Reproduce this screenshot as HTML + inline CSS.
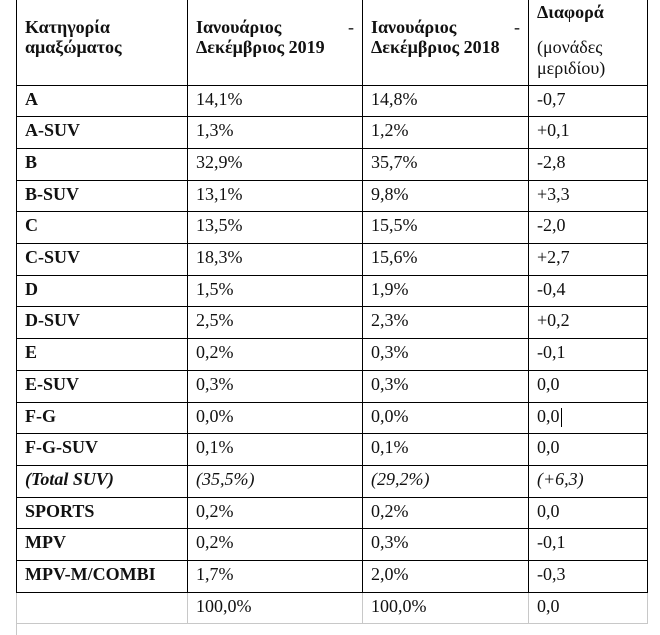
<!DOCTYPE html>
<html><head><meta charset="utf-8"><style>
body{margin:0;width:660px;height:635px;background:#fff;overflow:hidden;position:relative;font-family:"Liberation Serif",serif;color:#111}
.h,.v{position:absolute;background:#000}
.h{height:1px}.v{width:1px}
.t{position:absolute;font-size:18px;line-height:20px;white-space:nowrap}
.b{font-weight:bold}.i{font-style:italic}
</style></head><body>
<div id="g"></div>
<script>
var cols=[16,187,362,528,647];var base=84.5,rh=31.7;var g=document.getElementById('g');var s='';
for(var c=0;c<5;c++){s+='<div class="v" style="left:'+cols[c]+'px;top:0;height:'+(base+16*rh)+'px"></div>';
s+='<div class="v" style="left:'+cols[c]+'px;top:'+(base+16*rh)+'px;height:'+(c==0?635-base-16*rh:rh)+'px;background:#c8c8c8"></div>';}
for(var r=0;r<=16;r++){s+='<div class="h" style="left:16px;width:632px;top:'+Math.round(base+r*rh)+'px"></div>';}
s+='<div class="h" style="left:16px;width:632px;top:'+Math.round(base+17*rh)+'px;background:#c8c8c8"></div>';
var rows=[["A","14,1%","14,8%","-0,7"],["A-SUV","1,3%","1,2%","+0,1"],["B","32,9%","35,7%","-2,8"],["B-SUV","13,1%","9,8%","+3,3"],["C","13,5%","15,5%","-2,0"],["C-SUV","18,3%","15,6%","+2,7"],["D","1,5%","1,9%","-0,4"],["D-SUV","2,5%","2,3%","+0,2"],["E","0,2%","0,3%","-0,1"],["E-SUV","0,3%","0,3%","0,0"],["F-G","0,0%","0,0%","0,0"],["F-G-SUV","0,1%","0,1%","0,0"],["(Total SUV)","(35,5%)","(29,2%)","(+6,3)"],["SPORTS","0,2%","0,2%","0,0"],["MPV","0,2%","0,3%","-0,1"],["MPV-M/COMBI","1,7%","2,0%","-0,3"],["","100,0%","100,0%","0,0"]];
for(var r=0;r<rows.length;r++){var y=Math.round(base+r*rh+4);
for(var c=0;c<4;c++){var cls='t'+(c==0?' b':'')+(r==12?' i':'');
s+='<div class="'+cls+'" style="left:'+(cols[c]+9)+'px;top:'+y+'px">'+rows[r][c]+'</div>';}}
s+='<div class="v" style="left:561px;top:'+Math.round(base+10*rh+6)+'px;height:19px"></div>';
s+='<div class="t b" style="left:25px;top:17px">Κατηγορία</div><div class="t b" style="left:25px;top:37px">αμαξώματος</div>';
s+='<div class="t b" style="left:196px;top:17px">Ιανουάριος</div><div class="t" style="left:348px;top:17px">-</div><div class="t b" style="left:196px;top:37px">Δεκέμβριος 2019</div>';
s+='<div class="t b" style="left:371px;top:17px">Ιανουάριος</div><div class="t" style="left:514px;top:17px">-</div><div class="t b" style="left:371px;top:37px">Δεκέμβριος 2018</div>';
s+='<div class="t b" style="left:537px;top:2px">Διαφορά</div><div class="t" style="left:537px;top:37px">(μονάδες</div><div class="t" style="left:537px;top:58px">μεριδίου)</div>';
g.innerHTML=s;
</script>
</body></html>
